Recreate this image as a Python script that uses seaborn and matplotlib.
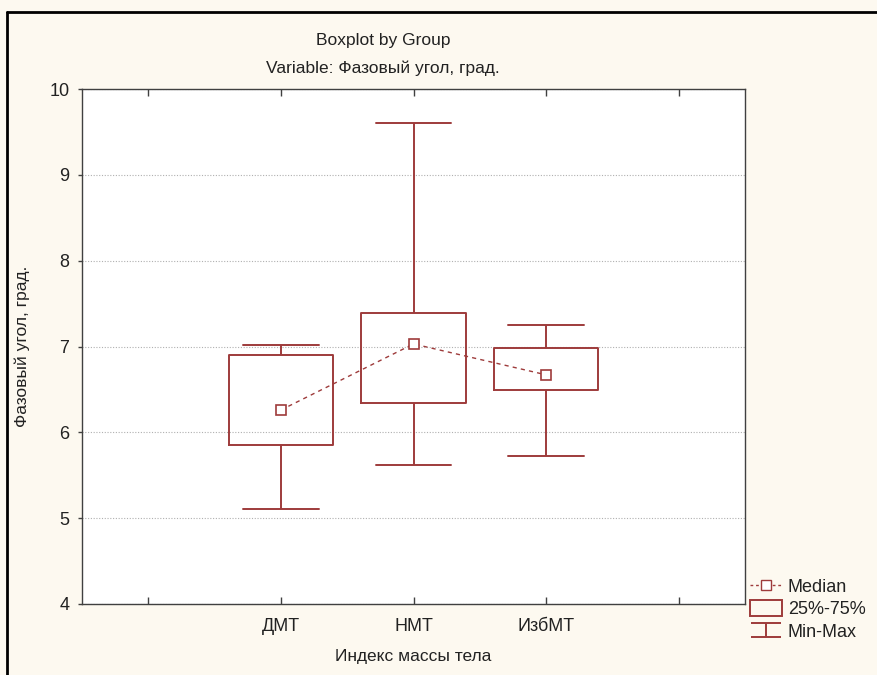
import numpy as np
import pandas as pd
import matplotlib
matplotlib.use("Agg")
import matplotlib.pyplot as plt
from matplotlib.lines import Line2D
from matplotlib.patches import Rectangle
from matplotlib.path import Path
import seaborn as sns

# ---- data ----
groups = ["ДМТ", "НМТ", "ИзбМТ"]
mins = [5.11, 5.62, 5.72]
q1 = [5.85, 6.34, 6.49]
medians = [6.26, 7.03, 6.67]
q3 = [6.90, 7.39, 6.98]
maxs = [7.02, 9.60, 7.25]
yticks = [4, 5, 6, 7, 8, 9, 10]

rows = []
for g, a, b, c, d, e in zip(groups, mins, q1, medians, q3, maxs):
    for v in (a, b, c, d, e):
        rows.append((g, v))
df = pd.DataFrame(rows, columns=["group", "value"])
med_df = pd.DataFrame({"group": groups, "value": medians})

sns.set_style("white")
plt.rcParams["font.family"] = ["Liberation Sans Narrow", "Liberation Sans", "DejaVu Sans"]

RED = "#9E3B3B"
TXT = "#222222"

fig = plt.figure(figsize=(8.77, 6.75), dpi=100, facecolor="#FDF9F0")
ax = fig.add_axes([82 / 877, 1 - 604 / 675, (745 - 82) / 877, (604 - 89) / 675])
ax.set_facecolor("white")

ax.yaxis.grid(True, linestyle=(0, (1, 1.5)), color="#B0B0B0", linewidth=0.8)
ax.set_axisbelow(True)

sns.boxplot(data=df, x="group", y="value", order=groups, whis=np.inf, width=0.79,
            fill=False, color=RED, linewidth=1.4, capwidths=0.57,
            medianprops=dict(visible=False), ax=ax)

sns.pointplot(data=med_df, x="group", y="value", order=groups, errorbar=None,
              color=RED, markers="s", linestyles="--", ax=ax,
              markerfacecolor="white", markeredgecolor=RED, markersize=7,
              markeredgewidth=1.2, linewidth=1.0)
for ln in ax.lines[-1:]:
    ln.set_dashes((3, 3))
    ln.set_zorder(5)

ax.set_xlim(-1.5, 3.5)
ax.set_ylim(4, 10)
ax.set_yticks(yticks)
ax.set_xticks([-1, 0, 1, 2, 3])
ax.set_xticklabels(["", "ДМТ", "НМТ", "ИзбМТ", ""], fontsize=13, color=TXT)
ax.set_yticklabels([str(t) for t in yticks], fontsize=13, color=TXT)
ax.tick_params(axis="x", direction="in", length=5, top=True, bottom=True,
               color="#404040", width=1, pad=10)
ax.tick_params(axis="y", direction="out", length=3, left=True, color="#404040",
               width=1, pad=6)
for s in ax.spines.values():
    s.set_color("#404040")
    s.set_linewidth(1.0)

ax.set_xlabel("Индекс массы тела", fontsize=12.5, color=TXT, labelpad=10)
ax.set_ylabel("Фазовый угол, град.", fontsize=12.5, color=TXT, labelpad=14)

fig.text(383 / 877, 1 - 40 / 675, "Boxplot by Group", ha="center", va="center",
         fontsize=12.5, color=TXT)
fig.text(383 / 877, 1 - 68 / 675, "Variable: Фазовый угол, град.", ha="center",
         va="center", fontsize=12.5, color=TXT)

# legend
minmax_path = Path([(-1, 0.47), (1, 0.47), (0, 0.47), (0, -0.47), (-1, -0.47), (1, -0.47)],
                   [Path.MOVETO, Path.LINETO, Path.MOVETO, Path.LINETO,
                    Path.MOVETO, Path.LINETO])
h_med = Line2D([], [], color=RED, linestyle=(0, (2, 2)), linewidth=1,
               marker="s", markerfacecolor="white", markeredgecolor=RED, markersize=7)
h_box = Rectangle((0, 0), 1, 1, facecolor="none", edgecolor=RED, linewidth=1.4)
h_mm = Line2D([], [], linestyle="none", marker=minmax_path, markersize=21,
              markeredgecolor=RED, markeredgewidth=1.4, markerfacecolor="none")
leg = fig.legend([h_med, h_box, h_mm], ["Median", "25%-75%", "Min-Max"],
                 loc="upper left", bbox_to_anchor=(750 / 877, 1 - 578 / 675),
                 frameon=False, fontsize=13, handlelength=1.75, handleheight=1.0,
                 handletextpad=0.35, labelspacing=0.22, borderaxespad=0, borderpad=0)
for t in leg.get_texts():
    t.set_color(TXT)

# figure frame (left and top edge)
fig.add_artist(Line2D([7 / 877, 7 / 877], [0, 1 - 12 / 675], transform=fig.transFigure,
                      color="black", linewidth=2))
fig.add_artist(Line2D([7 / 877, 1], [1 - 12 / 675, 1 - 12 / 675], transform=fig.transFigure,
                      color="black", linewidth=2))

fig.savefig("out.png", dpi=100, facecolor=fig.get_facecolor())
